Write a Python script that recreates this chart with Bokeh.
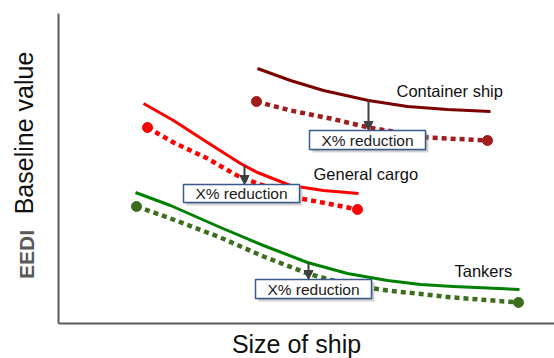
import math
from bokeh.plotting import figure
from bokeh.models import Range1d, Arrow, NormalHead, FixedTicker
from bokeh.core.properties import value
from bokeh.embed import file_html
from bokeh.resources import INLINE

# ---- data (arbitrary units: ship size vs EEDI) ----
container_x = [199, 232, 265, 310, 349, 389, 432]
container_base = [255, 243, 233, 223, 217, 214, 212]
container_red_x = [198, 232, 272, 310, 369, 429]
container_red = [222, 213, 205, 196, 186, 183]

cargo_x = [85, 115, 149, 182, 199, 232, 265, 300]
cargo_base = [220, 203, 181, 160, 151, 138, 133, 130]
cargo_red_x = [89, 115, 149, 182, 242, 269, 299]
cargo_red = [196, 181, 165, 146, 125, 120, 114]

tanker_x = [77, 112, 162, 205, 249, 289, 329, 362, 395, 461]
tanker_base = [131, 118, 96, 78, 61, 50, 43, 39, 37, 34]
tanker_red_x = [78, 112, 162, 205, 249, 289, 329, 395, 460]
tanker_red = [117, 105, 86, 67, 50, 39, 33, 26, 21]

series_names = ["Container ship", "General cargo", "Tankers"]
reduction_text = "X% reduction"
x_title = "Size of ship"
y_title = "Baseline value"
y_title_bold = "EEDI"

FONT = "Liberation Sans"
X_MAX, Y_MAX = 496, 310

p = figure(width=554, height=358, output_backend="svg", toolbar_location=None,
           x_range=Range1d(-58, X_MAX), y_range=Range1d(-35, Y_MAX + 13),
           min_border=0)
p.outline_line_color = None
p.grid.visible = False
p.background_fill_color = "white"
p.border_fill_color = "white"
p.xaxis.fixed_location = 0
p.yaxis.fixed_location = 0
p.xaxis.bounds = (0, X_MAX)
p.yaxis.bounds = (0, Y_MAX)
for ax in (p.xaxis, p.yaxis):
    ax.ticker = FixedTicker(ticks=[])
    ax.major_tick_out = 0
    ax.major_tick_in = 0
    ax.minor_tick_out = 0
    ax.minor_tick_in = 0
    ax.major_label_text_font_size = "0px"
    ax.major_label_standoff = 0
    ax.axis_line_color = "#5a5a5a"
    ax.axis_line_width = 2

def curve(xs, ys, color, width=3):
    p.line(xs, ys, line_color=color, line_width=width, line_join="round")

def dotted(xs, ys, color):
    p.line(xs, ys, line_color=color, line_width=4.5, line_dash="5 4")
    p.scatter([xs[0], xs[-1]], [ys[0], ys[-1]], size=10, marker="circle",
              fill_color=color, line_color=color)

curve(container_x, container_base, "#7b0000")
dotted(container_red_x, container_red, "#a01b1b")
curve(cargo_x, cargo_base, "#ff0000")
dotted(cargo_red_x, cargo_red, "#ff0000")
curve(tanker_x, tanker_base, "#008000")
dotted(tanker_red_x, tanker_red, "#3c6e1e")

# arrows from baseline curve to reduced curve
arrow_x = [310, 186, 250]
arrow_top = [223, 158, 61]
arrow_bot = [193, 139, 44]
for ax_, t, b in zip(arrow_x, arrow_top, arrow_bot):
    p.add_layout(Arrow(end=NormalHead(size=9, fill_color="#404040", line_color="#404040"),
                       x_start=ax_, y_start=t, x_end=ax_, y_end=b,
                       line_color="#404040", line_width=2))

# reduction boxes
box_left = [251, 125, 197]
box_right = [367, 241, 313]
box_top = [193, 139, 44]
box_bottom = [174, 121, 25]
p.quad(left=[l + 3 for l in box_left], right=[r + 3 for r in box_right],
       top=[t - 3 for t in box_top], bottom=[b - 3 for b in box_bottom],
       fill_color="#808080", fill_alpha=0.35, line_color=None)
p.quad(left=[l + 1.5 for l in box_left], right=[r + 1.5 for r in box_right],
       top=[t - 1.5 for t in box_top], bottom=[b - 1.5 for b in box_bottom],
       fill_color="#a0a0a0", fill_alpha=0.35, line_color=None)
p.quad(left=box_left, right=box_right, top=box_top, bottom=box_bottom,
       fill_color="white", line_color="#3a5a8c", line_width=1.5)
p.text(x=[(l + r) / 2 for l, r in zip(box_left, box_right)],
       y=[(t + b) / 2 for t, b in zip(box_top, box_bottom)],
       text=[reduction_text] * 3, text_align="center", text_baseline="middle",
       text_font=value(FONT), text_font_size="15.5px", text_color="#1a1a1a")

# series labels
p.text(x=[338, 255, 396], y=[233, 150, 53], text=series_names,
       text_align="left", text_baseline="middle",
       text_font=value(FONT), text_font_size="16.5px", text_color="#111111")

# axis titles
p.text(x=[-35], y=[190.5], text=[y_title], angle=math.pi / 2,
       text_align="center", text_baseline="middle",
       text_font=value(FONT), text_font_size="25px", text_color="#111111")
p.text(x=[-32.5], y=[69], text=[y_title_bold], angle=math.pi / 2,
       text_align="center", text_baseline="middle",
       text_font=value(FONT), text_font_size="21px", text_font_style="bold",
       text_color="#595959")
p.text(x=[238], y=[-20], text=[x_title],
       text_align="center", text_baseline="middle",
       text_font=value(FONT), text_font_size="25px", text_color="#111111")

open("out.html", "w").write(file_html(p, INLINE))
